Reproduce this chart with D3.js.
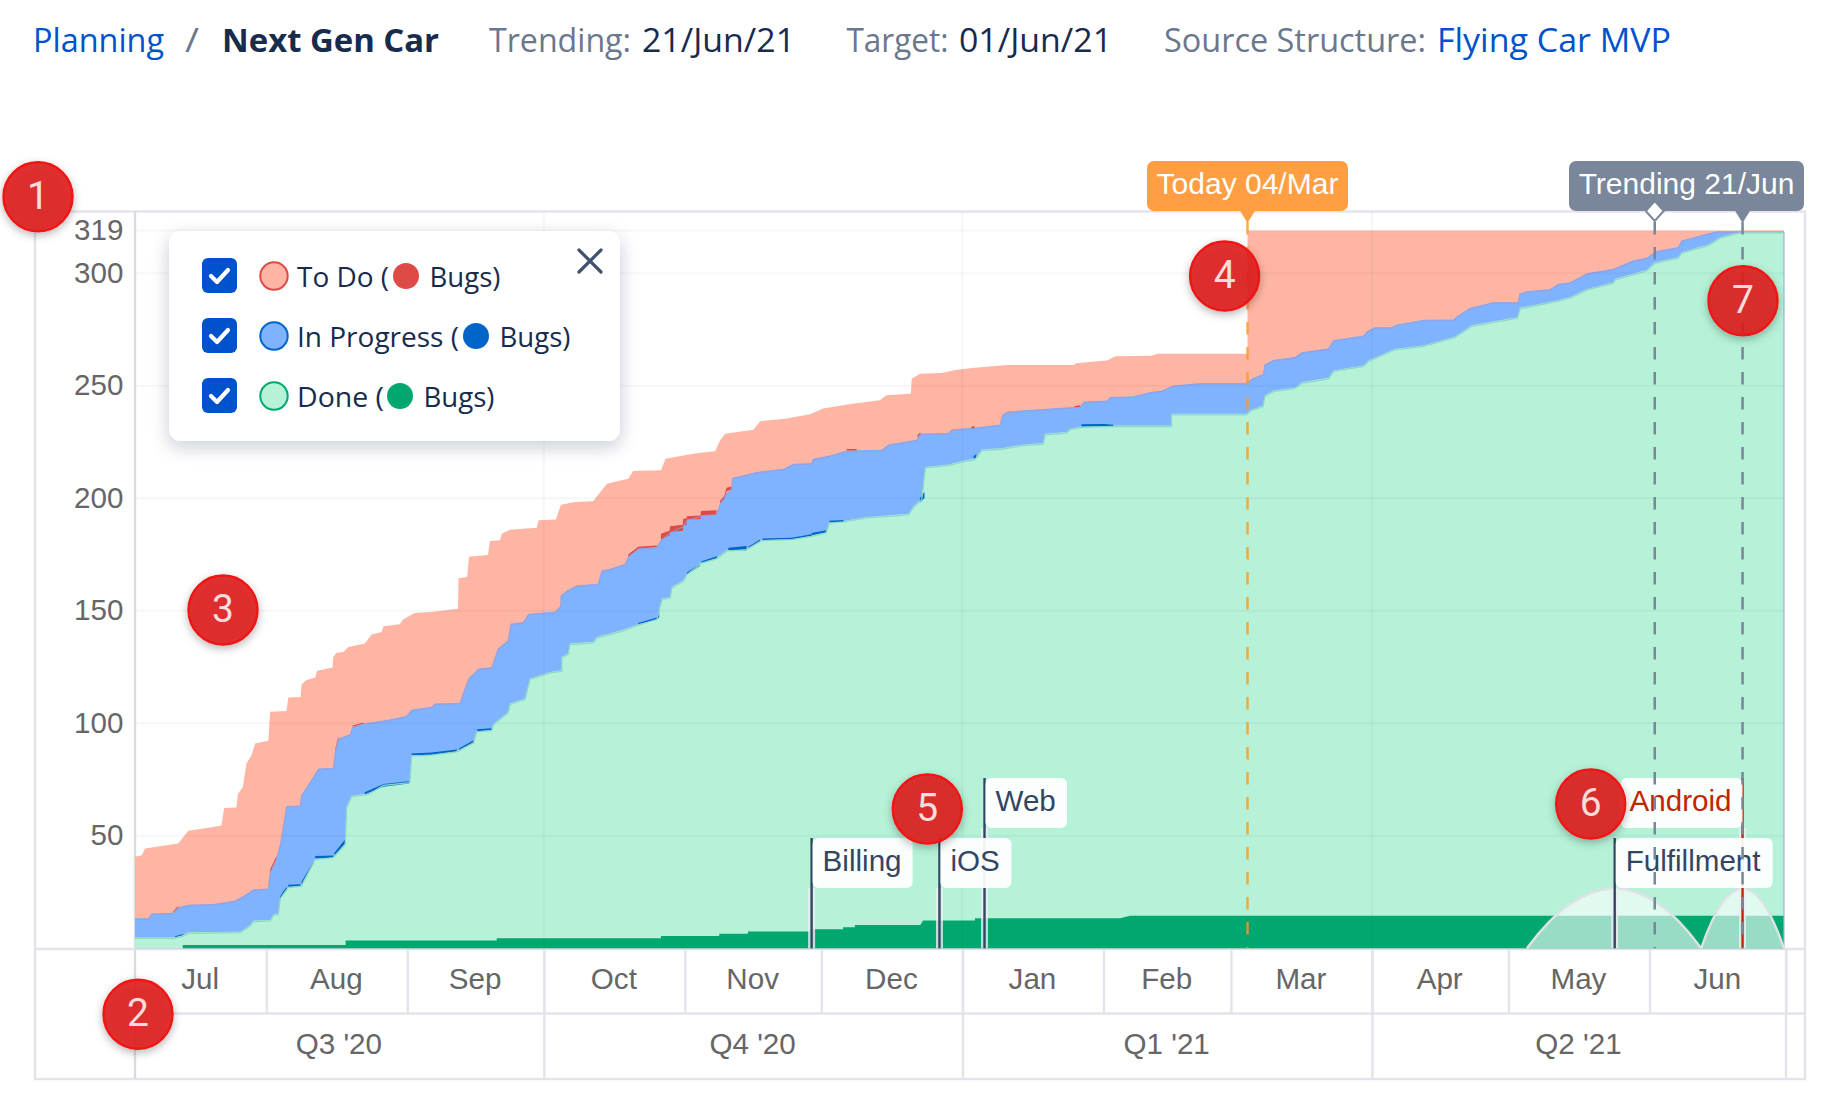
<!DOCTYPE html>
<html><head><meta charset="utf-8">
<script src="https://cdnjs.cloudflare.com/ajax/libs/d3/7.8.5/d3.min.js"></script>
<style>
html,body{margin:0;padding:0;background:#fff}
svg{display:block}
text{font-family:"Liberation Sans",Arial,sans-serif}
text.ui{font-family:"Open Sans",sans-serif}
</style></head><body>
<svg id="c" width="1841" height="1102"></svg>
<script>
// ---- values: [days since 3 Jul 2020, issue count] ----
const todoTop = [[0,40.7],[1.5,41.4],[2.2,44.4],[9.5,46.6],[11.7,52.2],[16.5,53.7],[19,54.6],[19.6,62.3],[22.3,62.6],[22.6,68.4],[23.7,71.8],[24.5,82.1],[25.6,85.8],[26.4,91],[29.3,92.2],[29.7,105.1],[33.3,105.4],[33.7,111.4],[36.4,111.7],[36.6,117.2],[37.6,119.1],[39.6,120.3],[40,123.3],[43.4,124.8],[43.6,129.5],[44.3,131.3],[45.8,131.7],[46.9,133.9],[50.5,135.4],[52,139.4],[54.2,140.6],[54.6,143.1],[58.2,144],[58.9,146.1],[61.5,149],[65.6,149.5],[71,150.9],[71.1,164.4],[73,165],[73.4,174],[77.6,174.8],[78,181],[80.2,181.3],[80.6,184.2],[82.4,186],[88.3,186.9],[88.7,190.2],[92.5,190.5],[93.6,197.1],[96.7,198.3],[100.7,198.6],[102.6,203.5],[103.7,206.4],[108.4,208.7],[109.5,212.1],[115.6,212.4],[116.6,217.5],[120.5,219],[123.4,220],[127.5,220.9],[128.6,225.7],[129.7,228.6],[135.9,230.4],[137.4,234.2],[142.9,235.3],[148.4,237.3],[151.2,239.9],[157.7,242],[163.7,243.5],[165.1,245.7],[170.5,246.4],[170.7,253.1],[172.5,255.3],[177.2,255.6],[180.3,257],[184,257.9],[191.5,259.2],[206.3,259.2],[206.7,260],[213.6,261.2],[215.5,263.1],[223.4,263.3],[224.7,264.2],[244.5,264.2],[244.5,319],[362.4,319]];
const inProgressTop = [[0,13.3],[2.9,13.3],[3.7,15.5],[8.4,15.8],[9.5,18.2],[11.7,19.4],[17.2,19.7],[22,21.2],[24.5,24.1],[26,26.2],[29.3,26.6],[29.7,33.6],[31.1,40],[31.9,45.9],[32.6,54],[33.3,63.2],[36.3,63.5],[36.6,68.1],[38.5,74],[40.3,79.9],[43.6,80.2],[44,87.3],[44.7,93.2],[47.3,95.2],[47.8,98.4],[50.2,99.9],[55.3,101.4],[59.7,103.3],[60.8,106.1],[65.2,107.3],[65.9,108.8],[71.4,109.1],[73.3,119.9],[75.5,124.3],[78.4,125],[79.8,133.2],[82,136.9],[82.6,144.3],[85.3,145],[86.5,148.7],[92.3,149.5],[93.6,152.4],[93.6,156.9],[95,159.1],[97.1,161.3],[101.8,162],[102.6,168],[104.4,168.7],[107.7,170.9],[108.6,174.6],[110.6,177.6],[114.7,178.3],[115.6,181.6],[117.6,185],[120.5,187.9],[121.3,190.5],[124.4,192.4],[127.8,193.1],[128.6,197.6],[129.5,201.2],[131.1,204.2],[131.3,209.1],[136.6,211.7],[142.5,213.1],[144.7,215.3],[148.7,215.6],[149,217.5],[152.7,219],[156.4,221.2],[164.1,221.5],[165.6,223.9],[171.8,226],[172.5,228.7],[178.8,229],[179.5,230.6],[184.2,231.3],[190.1,232.8],[190.7,237.2],[191.9,238.6],[207.7,240.8],[208.6,243],[213.6,243.4],[214.3,245],[219.4,245.3],[223.1,247.2],[225.7,247.9],[228.2,250.1],[234.1,251.2],[244.3,251.2],[245.4,253.1],[248,255.3],[248.3,259.5],[250.2,261.5],[254.9,262.7],[256.4,264.9],[262.3,266.6],[263.4,270.3],[270,272.3],[270.7,274.2],[272.5,276],[276.2,276],[277.3,277.2],[283.2,279.3],[289.7,279.4],[290.5,280.8],[293.4,284.6],[298.5,287.1],[304,287.1],[304.3,290.8],[305.9,292],[311,293],[312.8,295.3],[315.4,296],[319.1,300],[324.9,302],[329.3,305.7],[332.2,306.9],[334.4,309.8],[339.1,311.6],[339.9,314.5],[346.2,318],[347.6,318.6],[362.4,318.6]];
const doneTop = [[0,4.9],[8.8,4.9],[10.6,5.9],[11.7,7.1],[23.1,7.4],[25.3,10.3],[26,12.3],[29.7,12.6],[30.5,15.2],[31.5,15.5],[31.9,22.2],[32.6,24.4],[33.7,27.4],[36.6,28.1],[37.7,32.5],[39.6,39.9],[43.6,40.7],[46.2,46.6],[46.5,62.9],[47.6,67.8],[51.3,68.8],[54.6,72.8],[60.4,74],[60.8,85.8],[65.2,86.3],[70.7,87.7],[74.4,91.7],[75.1,96.6],[78.4,97.2],[78.8,99.9],[82,105],[82.4,108.8],[85.7,111],[86.8,119.9],[91.2,122.8],[93.8,123.6],[93.8,129.7],[95.2,131],[95.6,135.4],[100.7,136.2],[101.5,138.3],[106.9,141.3],[110.6,144],[114.7,146.5],[115.8,155.4],[117.6,156.1],[118,160.6],[120.5,163.5],[121.3,166.5],[124.5,171.6],[127.9,173.6],[130,176.9],[134.4,177.6],[137.7,181.6],[144.3,182],[148.7,183.5],[151.9,185],[152.6,189.4],[155.7,189.9],[160.8,191.7],[166,192.4],[170,193.1],[171.1,196.4],[172.9,199.8],[173.7,213.9],[178.8,215],[181.7,216.5],[184.6,217.6],[186.1,221.6],[190.8,222.3],[194.9,223.8],[199.6,224.5],[200,228.6],[204.7,229.4],[205.5,230.9],[208,231.9],[215,232.3],[227.8,232.3],[227.8,237.5],[244.3,237.5],[245,239],[247.9,241.2],[248.3,245.7],[250.2,247.9],[254.9,249.1],[256.4,251.5],[262.3,253.5],[263.4,256.8],[270,259],[271.1,261.2],[277,266.4],[283.2,267.9],[290.1,271.9],[293.8,276.8],[303.8,280.4],[304.4,284.6],[312.5,287.9],[315.4,289.4],[319.1,293],[324.9,296],[325.3,297.5],[332.2,301.4],[334,304.8],[339.1,307.1],[339.9,309.3],[345.8,312.7],[348.3,316],[352,318],[353.5,318.4],[362.4,318.4]];
// bug bands: [day, lower count, upper count], null separates runs
const todoBugs = [[8.4,15.8,16.4],[9.5,18.2,18.8],null,[29.7,33.6,35],[31.1,40,41],null,[44,87.3,88.3],[44.7,93.2,94.2],null,[47.8,98.4,99],[50.2,99.9,100.3],null,[108.4,174,175],[110.6,177.6,178.4],[114.7,178.3,179],null,[115.6,181.6,184.2],[117.5,183.5,185.5],[117.6,185,187.5],[120.4,185.5,188.2],[120.5,187.9,190.9],[121.2,188,191],[121.3,190.5,192],[124.3,190.8,192.3],[124.4,192.4,194.3],[127.8,192.8,194.6],null,[128.6,197.6,199],[129.5,199.5,201],[130,203,204.7],[131.1,204,205.2],null,[156.4,221.2,221.9],[158.6,221.2,221.9],null,[172,227,228.2],[172.6,228,229.2],null,[183.8,231,231.7],[184.6,231.4,232],null,[206.5,240.3,241],[207.7,240.6,241.3]];
const inProgressBugs = [[8.8,4.9,5.4],[10.6,5.9,6.4],null,[31.9,22.2,23],[32.6,24.4,25.3],[33.4,26.5,27.4],null,[33.7,27.4,28.2],[36.4,27.6,28.5],null,[36.6,28.5,29.6],[37.7,32.5,33.3],[39.2,37.5,38.3],null,[39.6,39.9,41],[43.6,40.2,41.2],null,[43.8,41.4,42.3],[46.2,46.6,48.5],null,[50.5,68.5,69.3],[54.6,71.8,73],[60.2,73.2,74.2],null,[60.8,85.8,86.6],[65.2,86,87],[70.7,87.4,88.3],null,[71.2,88,88.8],[74.4,91.5,92.5],null,[75.2,96.4,97.3],[78.4,97,97.8],null,[110.6,144,144.5],[114.7,146.2,147],[115.2,147,150],null,[121.3,166,167],[124.2,170,171],null,[124.5,171,172],[127.9,173.3,174.2],null,[130.4,176.9,178],[134.4,176.9,178.8],null,[134.8,177.6,178.4],[137.4,180.8,181.6],null,[137.9,181.4,182.1],[144.3,181.7,182.4],[148.7,183.2,184],null,[148.7,183.5,184.5],[152,184.9,185.8],null,[152.6,189.2,190],[155.7,189.4,190.3],null,[172.5,198,200],[173.5,200,202.8],null,[184.3,217.6,218.8],[184.9,218,219.5],null,[208,231.9,232.9],[213,232,233],[215,232,232.6]];
const doneBugs = [[10.5,0],[10.5,1.5],[46.3,1.5],[46.3,3.5],[79.5,3.5],[79.5,4.5],[115.6,4.5],[115.6,5.5],[128.4,5.5],[128.4,6.5],[134.7,6.5],[134.7,7.5],[148.3,7.5],[148.3,8.5],[155.6,8.5],[155.6,9.3],[158.2,9.3],[158.2,10.4],[172.6,10.4],[173.2,12.3],[184.6,12.3],[184.6,13.4],[216.5,13.4],[218.7,14.5],[362.4,14.5]];
const yTicks = [50,100,150,200,250,300,319];
const monthNames = ["Jul","Aug","Sep","Oct","Nov","Dec","Jan","Feb","Mar","Apr","May","Jun"];
const quarterNames = ["Q3 '20","Q4 '20","Q1 '21","Q2 '21"];
// row 1 (upper) releases are listed first: the lower labels sit over their lines
const markerNames = ["Web","Android","Billing","iOS","Fulfillment"];
const markerDays = [186.7,353.3,148.7,176.8,325.2];
const markerRows = [1,1,0,0,0];
const todayDay = 244.5, trendingDay = 353.3, trendingStartDay = 334, endDay = 362.4;
const arcStart = [305.9,344.2], arcPeak = [325.2,353.3], arcEnd = [344.2,362.4], arcHeight = [26.6,26.6];

// ---- scales ----
const svg = d3.select("#c");
const startDate = new Date(2020,6,3), endDate = new Date(2021,6,1);
const seriesOrigin = new Date(2020,6,3,3,40);
const dayDate = d => new Date(+seriesOrigin + d*864e5);
const x = d3.scaleTime().domain([startDate,endDate]).range([134.3,1786]);
const X = d => x(dayDate(d));
const y = d3.scaleLinear().domain([0,319]).range([948.3,230.4]);
const monthStarts = d3.timeMonth.range(new Date(2020,6,1), new Date(2021,7,1));
const quarterStarts = [new Date(2020,6,1),new Date(2020,9,1),new Date(2021,0,1),new Date(2021,3,1),new Date(2021,6,1)];
const clampX = d => Math.max(135,x(d));

const C = {todo:"#FFB5A3",todoBug:"#DE4A45",prog:"#7FB3FF",progBug:"#0065C8",done:"#B5F2D8",doneBug:"#00A86F",
  frame:"#E3E4EB",axisText:"#666",dark:"#172B4D",grey:"#6B778C",link:"#0052CC"};
const chartFont = "29.6px";

// ---- header ----
const head = [["Planning",33,131,C.link,400],["/",185,14,C.grey,400],["Next Gen Car",222,217,C.dark,700],
 ["Trending:",489,142,C.grey,400],["21/Jun/21",642,153,C.dark,400],["Target:",846.5,102,C.grey,400],["01/Jun/21",959,153,C.dark,400],
 ["Source Structure:",1164,262,C.grey,400],["Flying Car MVP",1437,234,C.link,400]];
svg.selectAll("text.head").data(head).join("text").attr("class","ui head")
 .attr("x",d=>d[1]).attr("y",52).attr("textLength",d=>d[2]).attr("lengthAdjust","spacingAndGlyphs")
 .attr("fill",d=>d[3]).attr("font-weight",d=>d[4]).style("font-size","32px").text(d=>d[0]);

// ---- frame ----
const frame = svg.append("g").attr("fill","none").attr("stroke",C.frame).attr("stroke-width",2.4);
frame.append("rect").attr("x",35).attr("y",211.5).attr("width",1770).attr("height",867.5);
frame.append("line").attr("x1",135).attr("x2",135).attr("y1",211).attr("y2",1079).attr("stroke","#D8DBE5");
frame.append("line").attr("x1",35).attr("x2",1805).attr("y1",949).attr("y2",949);
frame.append("line").attr("x1",135).attr("x2",1805).attr("y1",1013.5).attr("y2",1013.5);
frame.append("line").attr("x1",1786).attr("x2",1786).attr("y1",949).attr("y2",1079);

// ---- stacked areas ----
const area = d3.area().x(d=>X(d[0])).y0(y(0)).y1(d=>y(d[1]));
const band = d3.area().defined(d=>d).x(d=>X(d[0])).y0(d=>y(d[1])).y1(d=>y(d[2]));
const line = d3.line().x(d=>X(d[0])).y(d=>y(d[1]));
svg.append("path").attr("d",area(todoTop)).attr("fill",C.todo);
svg.append("path").attr("d",area(inProgressTop)).attr("fill",C.prog);
svg.append("path").attr("d",area(doneTop)).attr("fill",C.done);
svg.append("path").attr("d",band(todoBugs)).attr("fill",C.todoBug);
svg.append("path").attr("d",band(inProgressBugs)).attr("fill",C.progBug);
svg.append("path").attr("d",area(doneBugs)).attr("fill",C.doneBug);
svg.append("path").attr("d",line(inProgressTop)).attr("fill","none").attr("stroke","#9C9BD6").attr("stroke-width",1.2).attr("opacity",.75).attr("transform","translate(0,1)");
svg.append("path").attr("d",line(doneTop)).attr("fill","none").attr("stroke","#8FD6C9").attr("stroke-width",1.3).attr("transform","translate(0,1)");
svg.append("line").attr("x1",X(endDay)).attr("x2",X(endDay)).attr("y1",y(318.4)).attr("y2",y(0)).attr("stroke","#9DB9CB").attr("stroke-width",1.2);

// ---- grid over the areas ----
const gridG = svg.append("g").attr("stroke","rgba(9,30,66,0.035)").attr("stroke-width",2);
gridG.selectAll("line.h").data(yTicks).join("line").attr("x1",136).attr("x2",1784).attr("y1",d=>y(d)).attr("y2",d=>y(d));
gridG.selectAll("line.v").data(quarterStarts.slice(1,4)).join("line").attr("x1",x).attr("x2",x).attr("y1",212).attr("y2",948);

// ---- axes ----
const yAxis = d3.axisLeft(y).tickValues(yTicks).tickSize(0).tickPadding(0);
const yg = svg.append("g").attr("transform","translate(123.5,0)").call(yAxis);
yg.select(".domain").remove();
yg.selectAll("text").style("font-size",chartFont).attr("fill",C.axisText).attr("dy","0.30em");

const mAxis = d3.axisBottom(x).tickValues(monthStarts.slice(1)).tickSize(64.5).tickFormat("");
const mg = svg.append("g").attr("transform","translate(0,949)").call(mAxis);
mg.select(".domain").remove(); mg.selectAll("line").attr("stroke",C.frame).attr("stroke-width",2.4);
const qAxis = d3.axisBottom(x).tickValues(quarterStarts.slice(1,4)).tickSize(130).tickFormat("");
const qg = svg.append("g").attr("transform","translate(0,949)").call(qAxis);
qg.select(".domain").remove(); qg.selectAll("line").attr("stroke",C.frame).attr("stroke-width",2.4);

svg.selectAll("text.mon").data(monthNames).join("text").attr("class","mon")
 .attr("x",(d,i)=>(clampX(monthStarts[i])+x(monthStarts[i+1]))/2-0.5).attr("y",989).attr("text-anchor","middle")
 .attr("fill",C.axisText).style("font-size",chartFont).text(d=>d);
svg.selectAll("text.qtr").data(quarterNames).join("text").attr("class","qtr")
 .attr("x",(d,i)=>(clampX(quarterStarts[i])+x(quarterStarts[i+1]))/2-0.5).attr("y",1053.5).attr("text-anchor","middle")
 .attr("fill",C.axisText).style("font-size",chartFont).text(d=>d);

// ---- dependency arcs ----
arcStart.forEach((s,i)=>{
  const p=d3.path(), b=y(0), t=y(arcHeight[i]), a=X(s), m=X(arcPeak[i]), e=X(arcEnd[i]);
  p.moveTo(a,b); p.quadraticCurveTo((a+m)/2,t,m,t); p.quadraticCurveTo((m+e)/2,t,e,b);
  svg.append("path").attr("d",p.toString()).attr("fill","rgba(255,255,255,0.6)").attr("stroke","#DFE1E6").attr("stroke-width",2.4);
});

// ---- releases (markers) ----
const markerG = svg.append("g");
markerNames.forEach((name,i)=>{
  const mx=X(markerDays[i]), top=markerRows[i]?778:838, h=50, red=name==="Android", left=red;
  const col=red?"#BF2600":"#344563";
  markerG.append("rect").attr("x",mx-3.5).attr("width",7).attr("y",top+h).attr("height",y(0)-top-h).attr("fill","#EDEEF2").attr("opacity",.8);
  markerG.append("line").attr("x1",mx).attr("x2",mx).attr("y1",top).attr("y2",y(0)).attr("stroke",col).attr("stroke-width",2.4);
  const w={Billing:100,iOS:71,Web:81.5,Fulfillment:157,Android:122}[name];
  const bx=left?mx-w:mx;
  markerG.append("rect").attr("x",bx+(left?0:1)).attr("y",top).attr("width",w).attr("height",h).attr("rx",6).attr("fill","#fff").attr("opacity",.93);
  markerG.append("text").attr("x",left?mx-11:mx+11).attr("y",top+33).attr("text-anchor",left?"end":"start").attr("fill",col).style("font-size",chartFont).text(name);
});

// ---- today / trending ----
const dash = (day,col,op)=>svg.append("line").attr("x1",X(day)).attr("x2",X(day)).attr("y1",222).attr("y2",y(0)).attr("stroke",col).attr("stroke-width",2.5).attr("stroke-dasharray","12.5 12.5").attr("opacity",op);
dash(todayDay,"#FF991F",.8);
dash(trendingStartDay,"#7A869A",1);
dash(trendingDay,"#7A869A",1);
const flag=(xa,w,col,label,tipDays)=>{
  svg.append("rect").attr("x",xa).attr("y",161).attr("width",w).attr("height",50).attr("rx",7).attr("fill",col);
  tipDays.forEach(d=>svg.append("path").attr("d",d3.line()([[X(d)-8,210],[X(d)+8,210],[X(d),223]])).attr("fill",col));
  svg.append("text").attr("x",xa+w/2).attr("y",194).attr("text-anchor","middle").attr("fill","#fff").style("font-size","30px").text(label);
};
flag(1147,201,"#FF9E42","Today 04/Mar",[todayDay]);
flag(1569,235,"#7A869A","Trending 21/Jun",[trendingDay]);
{const dx=X(trendingStartDay);
 svg.append("path").attr("d",d3.line()([[dx-9,211],[dx,201],[dx+9,211],[dx,221],[dx-9,211]])).attr("fill","#fff").attr("stroke","#7A869A").attr("stroke-width",2);}

// ---- legend ----
const defs=svg.append("defs");
const f=defs.append("filter").attr("id","sh").attr("x","-20%").attr("y","-20%").attr("width","140%").attr("height","150%");
f.append("feDropShadow").attr("dx",0).attr("dy",6).attr("stdDeviation",9).attr("flood-color","#091E42").attr("flood-opacity",.22);
const g2=defs.append("filter").attr("id","bs").attr("x","-30%").attr("y","-30%").attr("width","160%").attr("height","160%");
g2.append("feDropShadow").attr("dx",0).attr("dy",3).attr("stdDeviation",4).attr("flood-color","#000").attr("flood-opacity",.3);

const lg=svg.append("g");
lg.append("rect").attr("x",169).attr("y",231).attr("width",451).attr("height",210).attr("rx",12).attr("fill","#fff").attr("filter","url(#sh)");
const legendNames=["To Do (","In Progress (","Done ("];
const legendWidths=[92,162,87];
const legendFill=[C.todo,C.prog,C.done], legendBug=[C.todoBug,C.progBug,C.doneBug];
const bugCx=[406,476,400], bugsX=[429.5,499.5,423.5];
legendNames.forEach((n,i)=>{
  const cy=276+i*60;
  lg.append("rect").attr("x",202).attr("y",cy-18).attr("width",35).attr("height",35).attr("rx",6).attr("fill","#0052CC");
  lg.append("path").attr("d",d3.line()([[211,cy],[217,cy+6],[228,cy-6]])).attr("fill","none").attr("stroke","#fff").attr("stroke-width",4.2).attr("stroke-linecap","round").attr("stroke-linejoin","round");
  lg.append("circle").attr("cx",274).attr("cy",cy).attr("r",13.7).attr("fill",legendFill[i]).attr("stroke",legendBug[i]).attr("stroke-width",2);
  lg.append("text").attr("class","ui").attr("x",297).attr("y",cy+11).attr("textLength",legendWidths[i]).attr("lengthAdjust","spacingAndGlyphs").attr("fill",C.dark).style("font-size","27px").text(n);
  lg.append("circle").attr("cx",bugCx[i]).attr("cy",cy).attr("r",13).attr("fill",legendBug[i]);
  lg.append("text").attr("class","ui").attr("x",bugsX[i]).attr("y",cy+11).attr("textLength",71).attr("lengthAdjust","spacingAndGlyphs").attr("fill",C.dark).style("font-size","27px").text("Bugs)");
});
lg.append("path").attr("d","M579 250L601 272M601 250L579 272").attr("stroke","#42526E").attr("stroke-width",3.2).attr("stroke-linecap","round").attr("fill","none");

// ---- numbered callouts ----
const callouts=[["1",38,196.7],["2",138,1014.3],["3",223,610],["4",1224.6,276],["5",927.3,809],["6",1590.7,804],["7",1743,300.7]];
const cg=svg.append("g");
callouts.forEach(c=>{
  cg.append("circle").attr("cx",c[1]).attr("cy",c[2]).attr("r",34.5).attr("fill","rgba(222,30,30,0.9)").attr("stroke","#F01212").attr("stroke-width",2.4).attr("filter","url(#bs)");
  cg.append("text").attr("x",c[1]).attr("y",c[2]+12).attr("text-anchor","middle").attr("fill","#FBDCDC").style("font-family","Roboto").style("font-size","39px").text(c[0]);
});
</script>
</body></html>
